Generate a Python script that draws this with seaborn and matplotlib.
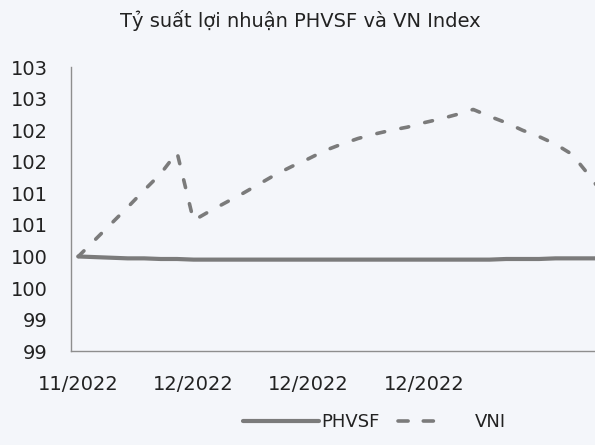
import numpy as np
import pandas as pd
import matplotlib
matplotlib.use('Agg')
import matplotlib.pyplot as plt
import seaborn as sns
from matplotlib.lines import Line2D

# Data (index = trading day)
vni = [100.00, 100.26, 100.52, 100.78, 101.05, 101.31, 101.65, 100.57,
       100.72, 100.86, 101.00, 101.15, 101.30, 101.43, 101.55, 101.68,
       101.78, 101.87, 101.94, 102.00, 102.05, 102.12, 102.18, 102.25,
       102.33, 102.22, 102.12, 102.00, 101.90, 101.78, 101.62, 101.30,
       100.95]
phvsf = [100.00, 99.99, 99.98, 99.97, 99.97, 99.96, 99.96, 99.95,
         99.95, 99.95, 99.95, 99.95, 99.95, 99.95, 99.95, 99.95,
         99.95, 99.95, 99.95, 99.95, 99.95, 99.95, 99.95, 99.95,
         99.95, 99.95, 99.96, 99.96, 99.96, 99.97, 99.97, 99.97,
         99.97]
x_ticks = [0, 7, 14, 21]
x_labels = ['11/2022', '12/2022', '12/2022', '12/2022']
y_ticks = [98.5, 99, 99.5, 100, 100.5, 101, 101.5, 102, 102.5, 103]
y_labels = ['99', '99', '100', '100', '101', '101', '102', '102', '103', '103']

days = np.arange(len(vni))
df = pd.concat([
    pd.DataFrame({'day': days, 'value': phvsf, 'series': 'PHVSF'}),
    pd.DataFrame({'day': days, 'value': vni, 'series': 'VNI'}),
])

sns.set_style('white')
plt.rcParams['font.family'] = ['DejaVu Sans']

bg = '#f4f6fa'
line_col = '#7b7b7b'
vni_style = (0, (2.2, 4.6))

fig = plt.figure(figsize=(5.95, 4.45), dpi=100, facecolor=bg)
ax = fig.add_axes([0.12, 0.211, 0.88, 0.638])
ax.set_facecolor(bg)

sns.lineplot(data=df, x='day', y='value', hue='series',
             palette={'PHVSF': line_col, 'VNI': line_col},
             linewidth=3.0, legend=False, ax=ax)
# second line is VNI: dashed with round caps
vni_line = ax.lines[1]
vni_line.set_linewidth(2.6)
vni_line.set_linestyle(vni_style)
vni_line.set_dash_capstyle('round')

ax.set_xlim(-0.42, 31.4)
ax.set_ylim(98.5, 103)
ax.set_xticks(x_ticks)
ax.set_xticklabels(x_labels)
ax.set_yticks(y_ticks)
ax.set_yticklabels(y_labels)
ax.tick_params(axis='x', length=0, pad=17, labelsize=14, labelcolor='#222222')
ax.tick_params(axis='y', length=0, pad=17, labelsize=14, labelcolor='#222222')
ax.set_xlabel('')
ax.set_ylabel('')

for side in ['top', 'right']:
    ax.spines[side].set_visible(False)
for side in ['left', 'bottom']:
    ax.spines[side].set_color('#8e8e8e')
    ax.spines[side].set_linewidth(1.0)

fig.text(0.505, 0.955, 'Tỷ suất lợi nhuận PHVSF và VN Index',
         ha='center', va='center', fontsize=14, color='#222222')

handles = [Line2D([], [], color=line_col, lw=3.0),
           Line2D([], [], color=line_col, lw=2.6, dash_capstyle='round',
                  linestyle=(0, (2.8, 4.2, 2.8, 16)))]
fig.legend(handles, ['PHVSF', 'VNI'], loc='lower center',
           bbox_to_anchor=(0.63, -0.005), ncol=2, frameon=False,
           fontsize=13, handlelength=4.2, handletextpad=0.1,
           columnspacing=1.0, labelcolor='#222222')

fig.savefig('out.png', dpi=100, facecolor=bg)
